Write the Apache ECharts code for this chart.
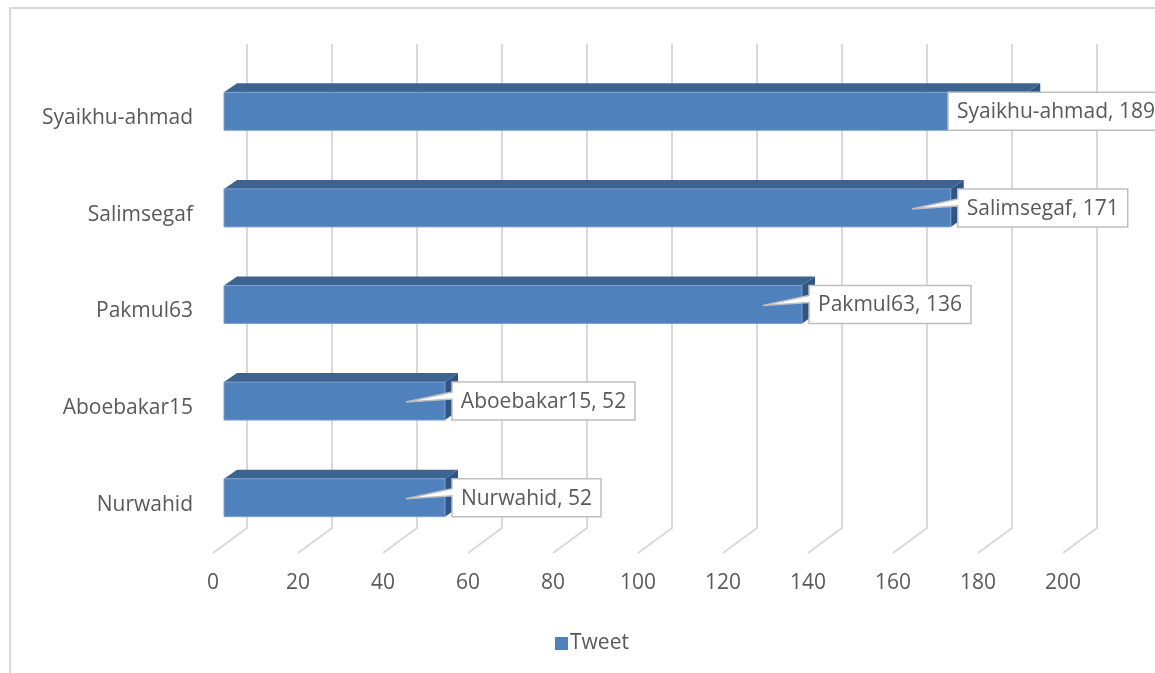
<!DOCTYPE html>
<html>
<head>
<meta charset="utf-8">
<script src="https://cdn.jsdelivr.net/npm/echarts@6/dist/echarts.min.js"></script>
<style>
html,body{margin:0;padding:0;background:#fff;}
#main{width:1155px;height:673px;}
</style>
</head>
<body>
<div id="main"></div>
<script>
// ---- data ----
var categories = ['Syaikhu-ahmad', 'Salimsegaf', 'Pakmul63', 'Aboebakar15', 'Nurwahid'];
var tweetValues = [189, 171, 136, 52, 52];
var xTicks = [0, 20, 40, 60, 80, 100, 120, 140, 160, 180, 200];
var seriesName = 'Tweet';

var FONT = '"Open Sans", "Noto Sans", sans-serif';
var FS = 21;
var TEXT_COLOR = '#595959';
var FRONT = '#4F81BD', TOP = '#3D6391', SIDE = '#2F5587';
var GRID_COLOR = '#D9D9D9';

var measureCtx = document.createElement('canvas').getContext('2d');
function textWidth(t) { measureCtx.font = FS + 'px ' + FONT; return measureCtx.measureText(t).width; }

var chart = echarts.init(document.getElementById('main'));

var barData = tweetValues.map(function (v, i) { return [v, i]; });

var option = {
  backgroundColor: '#fff',
  animation: false,
  graphic: [{
    type: 'rect', shape: { x: 10, y: 8, width: 1160, height: 680 },
    style: { fill: 'none', stroke: '#D9D9D9', lineWidth: 2 }, z: -10
  }],
  legend: {
    left: 550, top: 628,
    itemWidth: 13, itemHeight: 13, itemGap: 6,
    icon: 'rect',
    textStyle: { fontFamily: FONT, fontSize: FS, color: TEXT_COLOR, padding: [0, 0, 0, -3] },
    data: [{ name: seriesName, itemStyle: { color: FRONT } }]
  },
  grid: { left: 213, width: 850, top: 70, height: 483, containLabel: false },
  xAxis: {
    type: 'value', min: 0, max: 200, interval: 20,
    axisLine: { show: false }, axisTick: { show: false }, splitLine: { show: false },
    axisLabel: { fontFamily: FONT, fontSize: FS, color: TEXT_COLOR, margin: 20 }
  },
  yAxis: {
    type: 'category', data: categories, inverse: true,
    axisLine: { show: false }, axisTick: { show: false }, splitLine: { show: false },
    axisLabel: { fontFamily: FONT, fontSize: FS, color: TEXT_COLOR, margin: 20, padding: [2, 0, 0, 0] }
  },
  series: [
    {
      type: 'custom', name: 'grid3d', silent: true, z: 1,
      data: xTicks.map(function (t) { return [t, 0]; }),
      encode: { x: 0, y: 1 },
      renderItem: function (params, api) {
        var cs = params.coordSys;
        var x = api.coord([api.value(0), 0])[0];
        var floorY = cs.y + cs.height;
        return {
          type: 'polyline',
          shape: { points: [[x + 34, cs.y - 26], [x + 34, floorY - 25], [x, floorY]] },
          style: { stroke: GRID_COLOR, lineWidth: 2, fill: null }
        };
      }
    },
    {
      type: 'custom', name: seriesName, z: 2,
      itemStyle: { color: FRONT },
      data: barData,
      encode: { x: 0, y: 1 },
      renderItem: function (params, api) {
        var v = api.value(0), c = api.value(1);
        var p0 = api.coord([0, c]), p1 = api.coord([v, c]);
        var xl = p0[0] + 11, xr = p1[0] + 11;
        var yt = p0[1] - 26, yb = p0[1] + 12;
        var dx = 13, dy = -9;
        return {
          type: 'group',
          children: [
            { type: 'polygon', shape: { points: [[xl, yt], [xl + dx, yt + dy], [xr + dx, yt + dy], [xr, yt]] }, style: { fill: TOP } },
            { type: 'polygon', shape: { points: [[xr, yt], [xr + dx, yt + dy], [xr + dx, yb + dy], [xr, yb]] }, style: { fill: SIDE } },
            { type: 'rect', shape: { x: xl, y: yt, width: xr - xl, height: yb - yt }, style: { fill: FRONT, stroke: '#7FA1CF', lineWidth: 1 } }
          ]
        };
      }
    },
    {
      type: 'custom', name: 'labels', silent: true, z: 3,
      data: barData,
      encode: { x: 0, y: 1 },
      renderItem: function (params, api) {
        var v = api.value(0), c = api.value(1);
        var p1 = api.coord([v, c]);
        var frontRight = p1[0] + 11;
        var fc = p1[1] - 7;
        var txt = categories[c] + ', ' + v;
        var w = Math.round(textWidth(txt)) + 18;
        var limit = api.getWidth() + 9;
        var L = frontRight + 7;
        if (L + w > limit) L = limit - w;
        var R = L + w, T = fc - 19, B = fc + 19;
        var tipX = frontRight - 39, tipY = fc + 1;
        var pts;
        if (tipX < L - 5) {
          pts = [[L, T], [R, T], [R, B], [L, B], [L, fc - 2], [tipX, tipY], [L, fc - 9]];
        } else {
          pts = [[L, T], [R, T], [R, B], [L, B]];
        }
        return {
          type: 'group',
          children: [
            { type: 'polygon', shape: { points: pts }, style: { fill: '#fff', stroke: '#BFBFBF', lineWidth: 1.5 } },
            { type: 'text', style: { x: L + w / 2, y: fc + 1, text: txt, fill: TEXT_COLOR, font: FS + 'px ' + FONT, align: 'center', verticalAlign: 'middle' } }
          ]
        };
      }
    }
  ]
};
chart.setOption(option);
</script>
</body>
</html>
